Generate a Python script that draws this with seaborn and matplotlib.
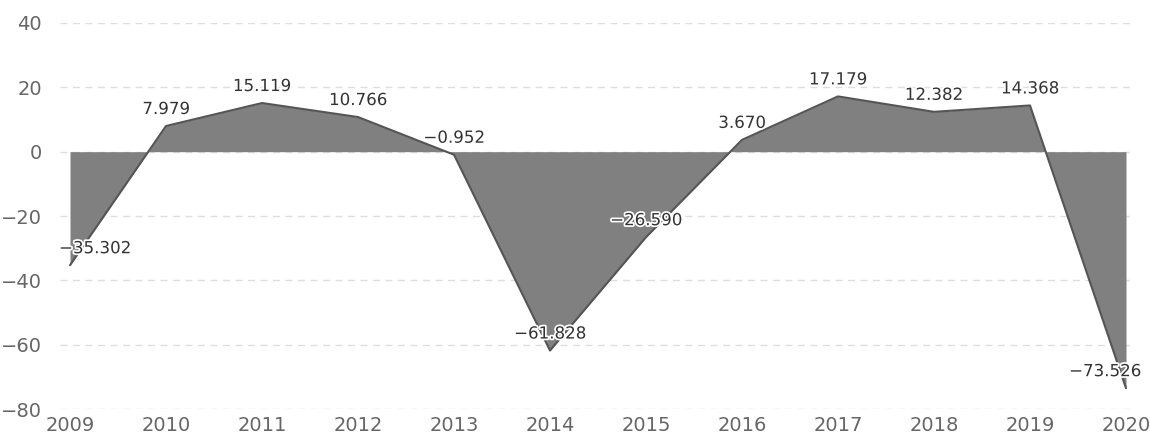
import numpy as np
import pandas as pd
import seaborn as sns
import matplotlib
matplotlib.use('Agg')
from matplotlib import pyplot as plt
import matplotlib.patheffects as pe

# datos
anios = [2009, 2010, 2011, 2012, 2013, 2014, 2015, 2016, 2017, 2018, 2019, 2020]
valores = [-35.302, 7.979, 15.119, 10.766, -0.952, -61.828, -26.590,
           3.670, 17.179, 12.382, 14.368, -73.526]
ticks_y = [40, 20, 0, -20, -40, -60, -80]

df = pd.DataFrame({'anio': anios, 'valor': valores})

sns.set_theme(style='white')
plt.rcParams['font.family'] = ['DejaVu Sans']
plt.rcParams['axes.unicode_minus'] = True

fig = plt.figure(figsize=(11.5, 4.36), dpi=100)
ax = fig.add_axes([60 / 1150, 1 - 409 / 436, 1075 / 1150, 386 / 436])

# area + linea
ax.fill_between(df['anio'], 0, df['valor'], color='#808080', linewidth=0, zorder=2)
sns.lineplot(data=df, x='anio', y='valor', ax=ax, color='#555555',
             linewidth=1.5, zorder=3)

ax.set_xlim(2009 - 10 / 96, 2020 + 9 / 96)
ax.set_ylim(-80, 40)
ax.set_yticks(ticks_y)
ax.set_xticks(anios)
ax.set_xticklabels([str(a) for a in anios])
ax.set_yticklabels([str(t).replace('-', '\u2212') for t in ticks_y])
ax.set_xlabel('')
ax.set_ylabel('')

ax.yaxis.grid(True, linestyle=(0, (5, 4)), color='#dedede', linewidth=1, zorder=0)
ax.xaxis.grid(False)
for s in ax.spines.values():
    s.set_visible(False)
ax.tick_params(axis='y', length=0, pad=13, labelsize=14, labelcolor='#666666')
ax.tick_params(axis='x', length=0, pad=5, labelsize=14, labelcolor='#666666')

# etiquetas
desplaz = {0: 25, len(valores) - 1: -21}
for i, (a, v) in enumerate(zip(anios, valores)):
    txt = f'{v:.3f}'.replace('-', '\u2212')
    ax.annotate(txt, (a, v), xytext=(desplaz.get(i, 0), 17),
                textcoords='offset pixels', ha='center', va='center',
                fontsize=12, color='#333333', zorder=5,
                path_effects=[pe.withStroke(linewidth=2.5, foreground='white')])

plt.savefig('out.png', dpi=100)
